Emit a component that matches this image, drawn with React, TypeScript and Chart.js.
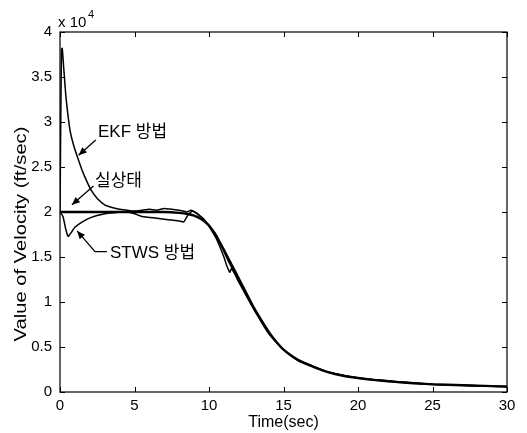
import React, { useEffect, useRef } from 'react';
import { Chart, registerables } from 'chart.js';
Chart.register(...registerables);

// Axis ticks (values in units of 10^4 ft/sec)
const xTickValues = [0, 5, 10, 15, 20, 25, 30];
const yTickValues = [0, 0.5, 1, 1.5, 2, 2.5, 3, 3.5, 4];

// 실상태 (true state)
const trueTime = [0, 1, 2, 3, 4, 5, 6, 7, 8, 8.5, 9, 9.5, 10, 10.5, 11, 11.5, 12, 12.5, 13, 13.5, 14, 14.5, 15, 16, 17, 18, 19, 20, 21, 22, 23, 24, 25, 26, 27, 28, 29, 30];
const trueValue = [2.0, 2.0, 2.0, 2.0, 2.0, 2.0, 2.0, 2.0, 1.99, 1.98, 1.96, 1.92, 1.85, 1.73, 1.58, 1.42, 1.26, 1.1, 0.94, 0.8, 0.67, 0.56, 0.47, 0.35, 0.28, 0.22, 0.18, 0.155, 0.135, 0.12, 0.105, 0.095, 0.085, 0.08, 0.075, 0.07, 0.065, 0.06];

// EKF 방법
const ekfTime = [0, 0.05, 0.1, 0.15, 0.25, 0.4, 0.67, 0.9, 1.13, 1.47, 1.8, 2.1, 2.5, 3.0, 3.5, 4, 4.5, 5, 5.5, 6, 6.5, 7, 7.5, 8, 8.5, 8.8, 9.2, 9.6, 10, 10.5, 11, 11.5, 12, 12.5, 13, 13.5, 14, 15, 16, 18, 20, 22, 25, 28, 30];
const ekfValue = [2.0, 3.0, 3.8, 3.82, 3.6, 3.28, 2.91, 2.75, 2.63, 2.47, 2.34, 2.24, 2.15, 2.08, 2.05, 2.03, 2.02, 2.01, 2.02, 2.03, 2.02, 2.04, 2.03, 2.02, 2.0, 2.02, 1.98, 1.93, 1.85, 1.74, 1.56, 1.39, 1.24, 1.08, 0.93, 0.79, 0.66, 0.47, 0.35, 0.22, 0.155, 0.12, 0.085, 0.07, 0.06];

// STWS 방법
const stwsTime = [0, 0.2, 0.4, 0.55, 0.7, 1.0, 1.5, 2.1, 3, 3.5, 4, 4.5, 5, 5.5, 6, 6.5, 7, 7.5, 8, 8.3, 8.6, 8.9, 9.3, 9.7, 10, 10.5, 11, 11.2, 11.4, 11.5, 11.7, 12, 12.5, 13, 14, 15, 16, 18, 20, 25, 30];
const stwsValue = [2.0, 1.95, 1.8, 1.73, 1.76, 1.83, 1.89, 1.94, 1.98, 1.99, 2.0, 2.0, 1.98, 1.95, 1.94, 1.93, 1.92, 1.91, 1.9, 1.89, 1.97, 2.01, 1.97, 1.9, 1.84, 1.7, 1.5, 1.4, 1.33, 1.37, 1.32, 1.22, 1.07, 0.92, 0.65, 0.47, 0.36, 0.22, 0.155, 0.085, 0.06];

// Annotation labels (data coordinates)
const labelTexts = ['EKF 방법', '실상태', 'STWS 방법'];
const labelX = [2.55, 2.35, 3.35];
const labelY = [2.89, 2.34, 1.54];
// Arrow polylines (data coordinates), last point is the arrow head
const arrowPathsX = [[2.4, 1.25], [2.25, 0.8], [3.15, 2.35, 1.15]];
const arrowPathsY = [[2.8, 2.63], [2.29, 2.08], [1.56, 1.56, 1.79]];

const xTitle = 'Time(sec)';
const yTitle = 'Value of Velocity (ft/sec)';

const LATIN = '"Liberation Sans", Arial, Helvetica, sans-serif';
const KOR = '"Liberation Sans", "Noto Sans CJK KR", sans-serif';

const toPoints = (xs: number[], ys: number[]) => xs.map((x, i) => ({ x, y: ys[i] }));

const decorPlugin = {
  id: 'decor',
  afterDraw(chart: any) {
    const { ctx, chartArea: a, scales } = chart;
    const xs = scales.x;
    const ys = scales.y;
    ctx.save();
    ctx.strokeStyle = '#000';
    ctx.fillStyle = '#000';
    ctx.lineWidth = 1.2;
    ctx.strokeRect(a.left, a.top, a.right - a.left, a.bottom - a.top);
    // inward ticks
    ctx.lineWidth = 1;
    const tl = 5;
    ctx.beginPath();
    xTickValues.forEach((v) => {
      const px = Math.round(xs.getPixelForValue(v)) + 0.5;
      ctx.moveTo(px, a.bottom); ctx.lineTo(px, a.bottom - tl);
      ctx.moveTo(px, a.top); ctx.lineTo(px, a.top + tl);
    });
    yTickValues.forEach((v) => {
      const py = Math.round(ys.getPixelForValue(v)) + 0.5;
      ctx.moveTo(a.left, py); ctx.lineTo(a.left + tl, py);
      ctx.moveTo(a.right, py); ctx.lineTo(a.right - tl, py);
    });
    ctx.stroke();

    // x title
    ctx.font = `16px ${LATIN}`;
    ctx.textAlign = 'center';
    ctx.textBaseline = 'middle';
    ctx.fillText(xTitle, (a.left + a.right) / 2, 423);

    // y title (stretched along its length)
    ctx.save();
    ctx.translate(22, (a.top + a.bottom) / 2 + 22);
    ctx.rotate(-Math.PI / 2);
    ctx.scale(1.26, 1);
    ctx.font = `16px ${LATIN}`;
    ctx.fillText(yTitle, 0, 0);
    ctx.restore();

    // x 10^4
    ctx.textAlign = 'left';
    ctx.textBaseline = 'alphabetic';
    ctx.font = `15px ${LATIN}`;
    ctx.fillText('x 10', a.left - 2, 27);
    ctx.font = `11px ${LATIN}`;
    ctx.fillText('4', a.left + 28, 18);

    // annotations
    ctx.font = `17px ${KOR}`;
    ctx.textBaseline = 'middle';
    labelTexts.forEach((t, i) => {
      ctx.fillText(t, xs.getPixelForValue(labelX[i]), ys.getPixelForValue(labelY[i]));
    });
    ctx.lineWidth = 1.3;
    arrowPathsX.forEach((px, i) => {
      const pts = px.map((x, j) => [xs.getPixelForValue(x), ys.getPixelForValue(arrowPathsY[i][j])]);
      ctx.beginPath();
      pts.forEach((p, j) => (j === 0 ? ctx.moveTo(p[0], p[1]) : ctx.lineTo(p[0], p[1])));
      ctx.stroke();
      const [hx, hy] = pts[pts.length - 1];
      const [tx, ty] = pts[pts.length - 2];
      const ang = Math.atan2(hy - ty, hx - tx);
      const L = 8, W = 3.5;
      ctx.beginPath();
      ctx.moveTo(hx, hy);
      ctx.lineTo(hx - L * Math.cos(ang) + W * Math.sin(ang), hy - L * Math.sin(ang) - W * Math.cos(ang));
      ctx.lineTo(hx - L * Math.cos(ang) - W * Math.sin(ang), hy - L * Math.sin(ang) + W * Math.cos(ang));
      ctx.closePath();
      ctx.fill();
    });
    ctx.restore();
  },
};

export default function App() {
  const ref = useRef<HTMLCanvasElement | null>(null);
  useEffect(() => {
    if (!ref.current) return;
    const chart = new Chart(ref.current, {
      type: 'line',
      data: {
        datasets: [
          { label: '실상태', data: toPoints(trueTime, trueValue), borderColor: '#000', borderWidth: 2.4, pointRadius: 0, tension: 0.2, fill: false },
          { label: 'EKF 방법', data: toPoints(ekfTime, ekfValue), borderColor: '#000', borderWidth: 1.5, pointRadius: 0, tension: 0.15, fill: false },
          { label: 'STWS 방법', data: toPoints(stwsTime, stwsValue), borderColor: '#000', borderWidth: 1.5, pointRadius: 0, tension: 0.15, fill: false },
        ],
      },
      options: {
        responsive: false,
        animation: false,
        layout: { padding: { left: 0, right: 20, top: 32, bottom: 0 } },
        plugins: { legend: { display: false }, tooltip: { enabled: false } },
        scales: {
          x: {
            type: 'linear',
            min: 0,
            max: 30,
            afterBuildTicks: (s: any) => { s.ticks = xTickValues.map((v) => ({ value: v })); },
            afterFit: (s: any) => { s.height = 41; },
            grid: { display: false, drawTicks: false },
            border: { display: false },
            ticks: { color: '#000', font: { family: LATIN, size: 15 }, padding: 5, maxRotation: 0, callback: (v: any) => String(v) },
          },
          y: {
            type: 'linear',
            min: 0,
            max: 4,
            afterBuildTicks: (s: any) => { s.ticks = yTickValues.map((v) => ({ value: v })); },
            afterFit: (s: any) => { s.width = 60; },
            grid: { display: false, drawTicks: false },
            border: { display: false },
            ticks: { color: '#000', font: { family: LATIN, size: 15 }, padding: 8, callback: (v: any) => String(v) },
          },
        },
      },
      plugins: [decorPlugin],
    } as any);
    return () => chart.destroy();
  }, []);
  return (
    <div style={{ position: 'fixed', left: 0, top: 0, width: 527, height: 433, background: '#fff' }}>
      <canvas ref={ref} width={527} height={433} style={{ width: 527, height: 433, display: 'block' }} />
    </div>
  );
}
